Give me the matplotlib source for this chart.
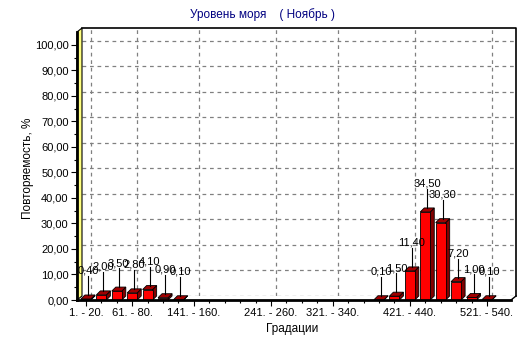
import matplotlib
matplotlib.use("Agg")
import matplotlib.pyplot as plt
from matplotlib.patches import Polygon, Rectangle

plt.rcParams['font.family'] = ['Liberation Sans', 'DejaVu Sans']

# градации уровня (по 20 см) и повторяемость, %
gradacii = ["1. - 20.", "21. - 40.", "41. - 60.", "61. - 80.", "81. - 100.",
            "101. - 120.", "121. - 140.", "141. - 160.", "161. - 180.", "181. - 200.",
            "201. - 220.", "221. - 240.", "241. - 260.", "261. - 280.", "281. - 300.",
            "301. - 320.", "321. - 340.", "341. - 360.", "361. - 380.", "381. - 400.",
            "401. - 420.", "421. - 440.", "441. - 460.", "461. - 480.", "481. - 500.",
            "501. - 520.", "521. - 540."]
povtor = [0.40, 2.00, 3.50, 2.80, 4.10, 0.90, 0.10, 0, 0, 0,
          0, 0, 0, 0, 0, 0, 0, 0, 0, 0.10,
          1.50, 11.40, 34.50, 30.30, 7.20, 1.00, 0.10]
podpisi = [0, 3, 7, 12, 16, 21, 26]   # какие градации подписаны на оси
yticks = [0, 10, 20, 30, 40, 50, 60, 70, 80, 90, 100]

W, H = 532, 343
fig = plt.figure(figsize=(W / 100, H / 100), dpi=100)
# передняя плоскость осей в пикселях
L, R, T, B = 77, 511, 32, 300
ax = fig.add_axes([L / W, 1 - B / H, (R - L) / W, (B - T) / H])

xmin, xmax = -0.58, 27.56
ymin, ymax = 0, 105
ax.set_xlim(xmin, xmax)
ax.set_ylim(ymin, ymax)

pxx = (R - L) / (xmax - xmin)   # пикселей на градацию
pxy = (B - T) / (ymax - ymin)   # пикселей на процент
# глубина "3D" стенок и столбиков
dxw, dyw = 5 / pxx, 4 / pxy
dxb, dyb = 4 / pxx, 4 / pxy

# задняя стенка: сетка пунктиром
grid_kw = dict(color='#808080', lw=0.9, ls=(0, (3, 3)), zorder=1, clip_on=False)
for t in yticks:
    ax.plot([xmin + dxw, xmax + dxw], [t + dyw, t + dyw], **grid_kw)
for t in podpisi:
    ax.plot([t + dxw, t + dxw], [dyw, ymax + dyw], **grid_kw)
ax.plot([xmin + dxw, xmax + dxw, xmax + dxw], [ymax + dyw, ymax + dyw, dyw],
        color='black', lw=1.2, zorder=2, clip_on=False)

# пол
ax.add_patch(Polygon([(xmin, 0), (xmax, 0), (xmax + dxw, dyw), (xmin + dxw, dyw)],
                     closed=True, fc='white', ec='none', zorder=2, clip_on=False))
ax.plot([xmax, xmax + dxw], [0, dyw], color='black', lw=1, zorder=3, clip_on=False)

# левая стенка
ax.add_patch(Polygon([(xmin, 0), (xmin, ymax), (xmin + dxw, ymax + dyw), (xmin + dxw, dyw)],
                     closed=True, fc='#FFFF80', ec='black', lw=0.8, zorder=3, clip_on=False))

# столбики
bw = 0.65
for i, v in enumerate(povtor):
    if v == 0:
        continue
    x0, x1 = i - bw / 2, i + bw / 2
    ax.add_patch(Polygon([(x1, 0), (x1, v), (x1 + dxb, v + dyb), (x1 + dxb, dyb)],
                         closed=True, fc='#800000', ec='black', lw=0.6, zorder=4))
    ax.add_patch(Polygon([(x0, v), (x1, v), (x1 + dxb, v + dyb), (x0 + dxb, v + dyb)],
                         closed=True, fc='#A00000', ec='black', lw=0.6, zorder=4))
    ax.add_patch(Rectangle((x0, 0), bw, v, fc='#FF0000', ec='black', lw=0.6, zorder=5))
    # выноска с подписью значения
    lx = i + dxb / 2
    ltop = v + dyb + 19 / pxy
    ax.plot([lx, lx], [v + dyb, ltop], color='black', lw=0.8, zorder=6, clip_on=False)
    ax.text(lx, ltop, f"{v:.2f}".replace('.', ','), ha='center', va='bottom',
            fontsize=8, zorder=7, clip_on=False)

# оси
for s in ['top', 'right']:
    ax.spines[s].set_visible(False)
for s in ['left', 'bottom']:
    ax.spines[s].set_linewidth(2)
    ax.spines[s].set_zorder(8)
ax.patch.set_visible(False)

ax.set_yticks(yticks)
ax.set_yticklabels([f"{t:.2f}".replace('.', ',') for t in yticks])
ax.set_yticks([t + 5 for t in yticks[:-1]], minor=True)
ax.set_xticks(podpisi)
ax.set_xticklabels([gradacii[i] for i in podpisi])
ax.set_xticks(range(len(gradacii)), minor=True)
ax.tick_params(which='major', length=4, width=0.8, labelsize=8, pad=2)
ax.tick_params(which='minor', length=2, width=0.8)

fig.text(262 / W, 1 - 15 / H, "Уровень моря    ( Ноябрь )", ha='center', va='center',
         fontsize=8.5, color='#000080')
fig.text(28 / W, 1 - 168 / H, "Повторяемость, %", rotation=90, ha='center', va='center',
         fontsize=8.5)
fig.text(292 / W, 1 - 329 / H, "Градации", ha='center', va='center', fontsize=8.5)

fig.savefig("out.png", dpi=100)
